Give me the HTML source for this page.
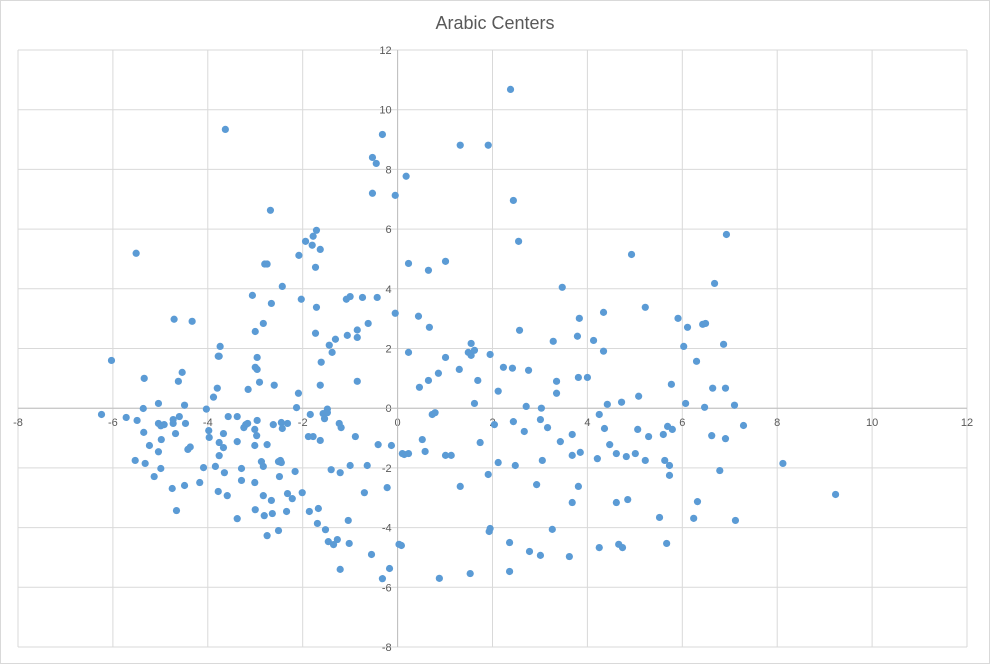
<!DOCTYPE html>
<html><head><meta charset="utf-8"><style>
html,body{margin:0;padding:0;background:#fff;}
svg{display:block;font-family:"Liberation Sans",sans-serif;}
</style></head><body>
<svg id="chart" width="990" height="664">
<rect x="0.5" y="0.5" width="989" height="663" fill="#fff" stroke="#d9d9d9"/>
<text x="495" y="29" text-anchor="middle" font-size="18" fill="#595959">Arabic Centers</text>
<g id="grid"></g>
<g id="axes"></g>
<g id="pts"></g>
</svg>
<script>
const xTicks=[-8,-6,-4,-2,0,2,4,6,8,10,12];
const yTicks=[-8,-6,-4,-2,0,2,4,6,8,10,12];
const xs=[-3.63,-0.32,-0.53,-0.45,-0.53,-0.05,-2.68,-5.51,-1.71,-1.78,-1.94,-1.80,-1.63,-2.08,-2.80,-2.75,-1.73,-2.43,-3.06,-2.03,-2.66,-1.71,-1.08,-1.0,-0.74,-0.43,-0.05,-4.71,-4.33,-2.83,-3.0,-1.73,-0.62,-0.85,-1.06,-0.85,-1.31,-1.44,-1.38,-1.61,-3.74,-3.78,-3.76,-2.96,-6.03,-3.0,-2.96,-5.34,-4.54,-4.62,-2.91,-2.60,-1.63,-0.85,-3.80,-3.15,-2.09,-3.88,-5.04,-4.49,-5.36,-4.03,-2.13,-1.48,
-6.24,-5.72,-5.49,-5.35,-5.23,-5.04,-5.04,-4.99,-4.92,-4.73,-4.73,-4.60,-4.47,-4.68,-4.98,-4.42,-4.37,-5.53,-5.32,-4.99,-5.13,-4.75,-4.49,-4.66,-4.17,-4.09,-3.98,-3.97,-3.84,-3.76,-3.67,-3.67,-3.76,-3.65,-3.78,-3.59,-3.57,-3.38,-3.38,-3.38,-3.24,-3.20,-3.16,-3.29,-3.29,-3.01,-2.97,-2.96,-3.01,-2.75,-2.87,-2.83,-3.01,-2.83,-3.0,-2.81,-2.66,-2.64,-2.75,-2.62,-2.45,-2.32,-2.43,-2.51,-2.45,-2.47,-2.49,-2.32,-2.22,-2.34,-2.51,-2.16,-2.01,-1.84,-1.88,-1.78,-1.63,-1.57,-1.54,-1.48,-1.23,-1.19,-0.89,-1.40,-1.21,-1.0,-0.64,-1.86,-1.67,-1.69,-1.52,-1.46,-1.35,-1.27,-1.02,-1.04,-1.21,-0.70,-0.41,-0.13,-0.22,-0.55,-0.17,-0.32,0.14,0.08,
2.38,1.32,1.91,0.18,2.44,2.55,6.93,4.93,0.23,0.65,1.01,6.68,3.47,0.44,0.67,2.57,3.83,4.34,5.22,5.91,6.11,6.43,6.49,3.79,4.13,3.28,1.55,0.23,1.49,1.55,1.62,1.95,1.01,4.34,6.03,6.87,6.30,1.30,0.86,0.65,0.46,2.23,2.42,2.76,1.69,3.35,3.81,4.0,2.12,3.35,5.77,6.64,6.91,1.62,2.71,3.03,4.42,4.72,5.08,6.07,6.47,7.10,
0.73,0.79,0.10,0.23,0.52,0.58,1.01,1.13,1.32,1.74,2.04,1.91,2.12,2.44,2.67,3.01,3.16,2.48,3.05,2.93,3.43,3.68,3.68,3.85,3.81,3.68,4.25,4.36,4.47,4.21,4.61,4.82,5.01,5.06,5.29,5.22,5.60,5.69,5.79,5.63,5.73,5.73,4.61,4.85,5.52,6.24,6.32,6.62,6.91,7.29,6.79,7.12,8.12,9.23,0.03,0.88,1.53,1.93,1.95,2.36,2.36,2.78,3.01,3.26,3.62,4.25,4.66,4.74,5.67];
const ys=[9.34,9.17,8.40,8.20,7.20,7.13,6.63,5.19,5.96,5.76,5.59,5.46,5.32,5.12,4.83,4.83,4.72,4.08,3.78,3.65,3.51,3.38,3.65,3.74,3.71,3.71,3.18,2.98,2.91,2.84,2.57,2.51,2.84,2.62,2.44,2.37,2.31,2.11,1.87,1.54,2.07,1.74,1.74,1.70,1.60,1.37,1.30,1.0,1.20,0.90,0.87,0.77,0.77,0.90,0.67,0.63,0.50,0.37,0.16,0.10,-0.01,-0.03,0.02,-0.03,
-0.21,-0.31,-0.41,-0.81,-1.25,-1.46,-0.51,-0.59,-0.55,-0.38,-0.51,-0.28,-0.51,-0.85,-1.05,-1.38,-1.30,-1.75,-1.85,-2.02,-2.29,-2.69,-2.59,-3.43,-2.49,-1.99,-0.75,-0.98,-1.95,-1.15,-0.85,-1.32,-1.59,-2.16,-2.79,-2.93,-0.28,-0.28,-1.12,-3.70,-0.65,-0.55,-0.51,-2.02,-2.42,-0.71,-0.92,-0.41,-1.25,-1.22,-1.79,-1.95,-2.49,-2.93,-3.40,-3.60,-3.09,-3.53,-4.27,-0.55,-0.48,-0.51,-0.68,-1.79,-1.82,-1.75,-2.29,-2.86,-3.03,-3.46,-4.10,-2.12,-2.83,-0.21,-0.95,-0.95,-1.08,-0.18,-0.35,-0.15,-0.51,-0.65,-0.95,-2.06,-2.16,-1.92,-1.92,-3.46,-3.36,-3.86,-4.07,-4.47,-4.57,-4.40,-4.53,-3.76,-5.40,-2.83,-1.22,-1.25,-2.66,-4.90,-5.37,-5.71,-1.55,-4.60,
10.68,8.81,8.81,7.77,6.96,5.59,5.82,5.15,4.85,4.62,4.92,4.18,4.05,3.08,2.71,2.61,3.01,3.21,3.38,3.01,2.71,2.81,2.84,2.41,2.27,2.24,2.17,1.87,1.87,1.77,1.94,1.80,1.70,1.91,2.07,2.14,1.57,1.30,1.17,0.93,0.70,1.37,1.34,1.27,0.93,0.90,1.03,1.03,0.57,0.50,0.80,0.67,0.67,0.16,0.06,0.0,0.13,0.20,0.40,0.16,0.03,0.10,
-0.21,-0.15,-1.52,-1.52,-1.05,-1.45,-1.58,-1.58,-2.62,-1.15,-0.55,-2.22,-1.82,-0.45,-0.78,-0.38,-0.65,-1.92,-1.75,-2.56,-1.12,-0.88,-1.58,-1.48,-2.62,-3.16,-0.21,-0.68,-1.22,-1.69,-1.52,-1.62,-1.52,-0.71,-0.95,-1.75,-0.88,-0.61,-0.71,-1.75,-1.92,-2.25,-3.16,-3.06,-3.66,-3.69,-3.13,-0.92,-1.02,-0.58,-2.09,-3.76,-1.85,-2.89,-4.56,-5.70,-5.54,-4.13,-4.03,-4.50,-5.47,-4.80,-4.93,-4.06,-4.97,-4.67,-4.56,-4.67,-4.53];

const NS="http://www.w3.org/2000/svg";
const L=18,R=967,T=50,B=647,xmin=-8,xmax=12,ymin=-8,ymax=12;
function sx(v){return L+(v-xmin)/(xmax-xmin)*(R-L);}
function sy(v){return B-(v-ymin)/(ymax-ymin)*(B-T);}
function mk(tag,attrs,parent){const e=document.createElementNS(NS,tag);for(const k in attrs)e.setAttribute(k,attrs[k]);parent.appendChild(e);return e;}
const grid=document.getElementById('grid'),axes=document.getElementById('axes'),pts=document.getElementById('pts');
xTicks.forEach(t=>{
  const l=mk('line',{x1:sx(t),x2:sx(t),y1:T,y2:B,stroke:'#d9d9d9','stroke-width':1},grid);
  
  
  const tx=mk('text',{x:sx(t),y:sy(0)+18,'text-anchor':'middle','font-size':11,fill:'#595959'},axes);
  tx.textContent=t;
  
  
});
yTicks.forEach(t=>{
  const l=mk('line',{x1:L,x2:R,y1:sy(t),y2:sy(t),stroke:'#d9d9d9','stroke-width':1},grid);
  
  
  const tx=mk('text',{x:sx(0)-6,y:sy(t)+4,'text-anchor':'end','font-size':11,fill:'#595959'},axes);
  tx.textContent=t;
  
  
});
const xa=mk('line',{x1:L,x2:R,y1:sy(0),y2:sy(0),stroke:'#bfbfbf','stroke-width':1},axes);


const ya=mk('line',{x1:sx(0),x2:sx(0),y1:T,y2:B,stroke:'#bfbfbf','stroke-width':1},axes);


for(let i=0;i<xs.length;i++){
  const c=mk('circle',{cx:sx(xs[i]),cy:sy(ys[i]),r:3.6,fill:'#5b9bd5'},pts);
  
  
}
</script>
</body></html>
